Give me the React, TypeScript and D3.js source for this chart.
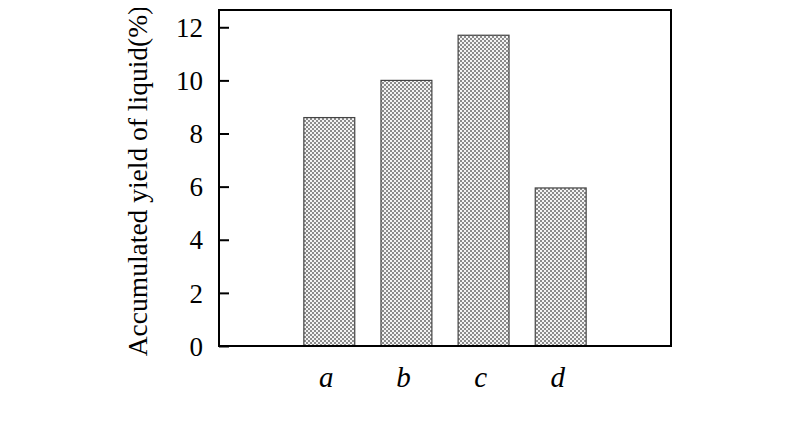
import { useEffect, useRef } from 'react';
import * as d3 from 'd3';

const categories = ['a', 'b', 'c', 'd'];
const yields = [8.6, 10.0, 11.7, 5.95];
const yTicks = [0, 2, 4, 6, 8, 10, 12];

export default function App() {
  const svgRef = useRef<SVGSVGElement>(null);

  useEffect(() => {
    const svg = d3.select(svgRef.current);
    svg.selectAll('*').remove();

    const width = 800;
    const height = 442;
    const margin = { top: 10, right: 129, bottom: 96, left: 219 };

    svg.attr('width', width).attr('height', height);

    const font = '"Liberation Serif", "Times New Roman", serif';

    // checker pattern for bars
    const defs = svg.append('defs');
    const pat = defs
      .append('pattern')
      .attr('id', 'checker')
      .attr('patternUnits', 'userSpaceOnUse')
      .attr('width', 4)
      .attr('height', 4);
    pat.append('rect').attr('width', 4).attr('height', 4).attr('fill', '#f4f4f4');
    pat.append('rect').attr('x', 0).attr('y', 0).attr('width', 2).attr('height', 2).attr('fill', '#8c8c8c');
    pat.append('rect').attr('x', 2).attr('y', 2).attr('width', 2).attr('height', 2).attr('fill', '#8c8c8c');

    const x = d3
      .scaleBand()
      .domain(categories)
      .range([margin.left, width - margin.right])
      .paddingInner(0.34)
      .paddingOuter(1.1);

    const y = d3
      .scaleLinear()
      .domain([0, 12.65])
      .range([height - margin.bottom, margin.top]);

    const data = categories.map((c, i) => ({ name: c, value: yields[i] }));

    // Bars
    svg
      .selectAll('.bar')
      .data(data)
      .enter()
      .append('rect')
      .attr('class', 'bar')
      .attr('x', (d) => x(d.name)!)
      .attr('y', (d) => y(d.value))
      .attr('width', x.bandwidth())
      .attr('height', (d) => y(0) - y(d.value))
      .attr('fill', 'url(#checker)')
      .attr('stroke', '#444')
      .attr('stroke-width', 1.2);

    // Y axis with inward ticks
    const yAxis = svg
      .append('g')
      .attr('transform', `translate(${margin.left},0)`)
      .call(d3.axisRight(y).tickValues(yTicks).tickSize(10).tickFormat(d3.format('d')));
    yAxis.select('.domain').remove();
    yAxis.selectAll('line').attr('stroke', '#000').attr('stroke-width', 2);
    yAxis
      .selectAll('text')
      .attr('x', -16)
      .attr('dy', '0.34em')
      .attr('text-anchor', 'end')
      .attr('fill', '#000')
      .attr('font-family', font)
      .style('font-family', font)
      .style('font-size', '27px');

    // Frame
    svg
      .append('rect')
      .attr('x', margin.left)
      .attr('y', margin.top)
      .attr('width', width - margin.left - margin.right)
      .attr('height', height - margin.bottom - margin.top)
      .attr('fill', 'none')
      .attr('stroke', '#000')
      .attr('stroke-width', 2);

    // X labels
    svg
      .selectAll('.xlab')
      .data(categories)
      .enter()
      .append('text')
      .attr('x', (d) => x(d)! + x.bandwidth() / 2 - 3)
      .attr('y', 387)
      .attr('text-anchor', 'middle')
      .style('font-family', font)
      .style('font-style', 'italic')
      .style('font-size', '29px')
      .text((d) => d);

    // Y title
    svg
      .append('text')
      .attr('transform', `translate(147,181) rotate(-90)`)
      .attr('text-anchor', 'middle')
      .style('font-family', font)
      .style('font-size', '27.5px')
      .text('Accumulated yield of liquid(%)');
  }, []);

  return <svg ref={svgRef} style={{ display: 'block', margin: '-8px' }}></svg>;
}
